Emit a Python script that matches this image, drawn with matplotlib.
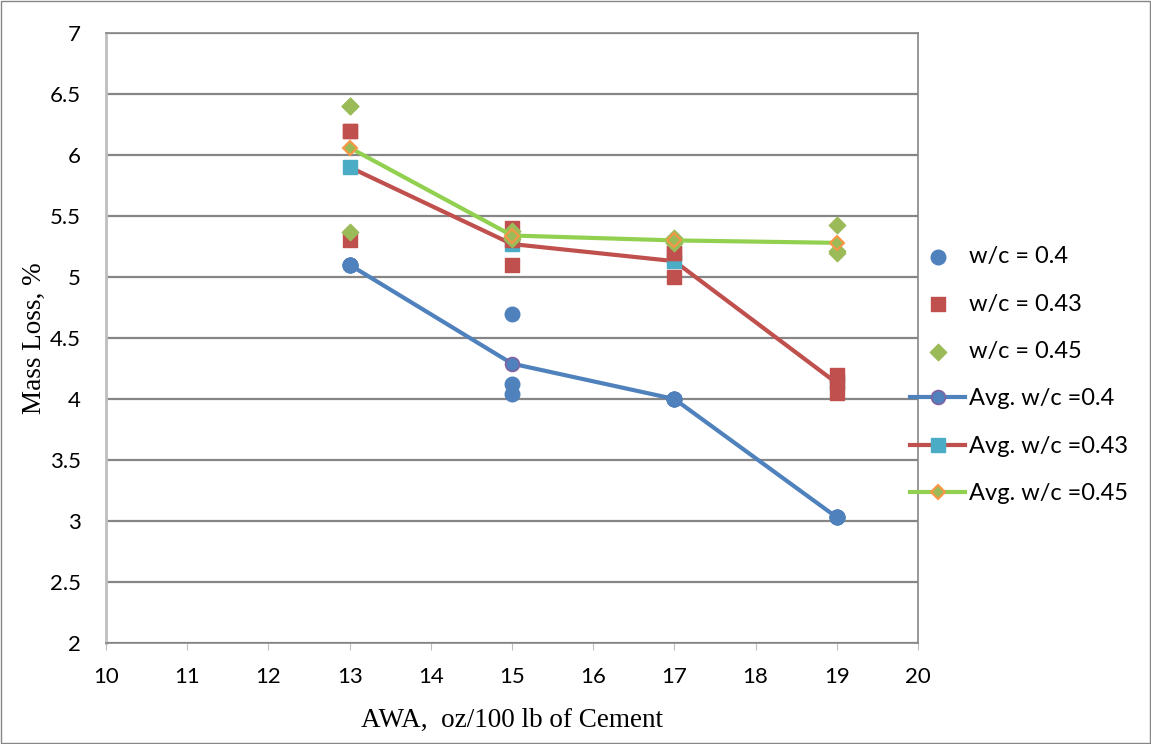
import matplotlib.pyplot as plt
import numpy as np

awa = [13, 15, 17, 19]

# individual measurements (x, mass loss)
x_040 = [13, 13, 13, 15, 15, 15, 17, 17, 17, 19, 19, 19]
y_040 = [5.1, 5.1, 5.1, 4.7, 4.12, 4.04, 4.0, 4.0, 4.0, 3.03, 3.03, 3.03]
x_043 = [13, 13, 13, 15, 15, 15, 17, 17, 17, 19, 19, 19]
y_043 = [6.2, 6.2, 5.3, 5.4, 5.3, 5.1, 5.2, 5.2, 5.0, 4.2, 4.15, 4.05]
x_045 = [13, 13, 13, 15, 15, 15, 17, 17, 17, 19, 19, 19]
y_045 = [6.4, 6.4, 5.37, 5.38, 5.33, 5.31, 5.32, 5.29, 5.28, 5.43, 5.2, 5.21]

avg_040 = [5.1, 4.29, 4.0, 3.03]
avg_043 = [5.9, 5.27, 5.13, 4.13]
avg_045 = [6.06, 5.34, 5.30, 5.28]

fig = plt.figure(figsize=(11.51, 7.44), dpi=100)
ax = fig.add_axes([106/1151, 1 - 643/744, (918-106)/1151, (643-33)/744])

tick_font = 'Lato'
ax.scatter(x_040, y_040, marker='o', s=110, color='#4F81BD', label='w/c = 0.4', zorder=5)
ax.scatter(x_043, y_043, marker='s', s=110, color='#C0504D', label='w/c = 0.43', zorder=5)
ax.scatter(x_045, y_045, marker='D', s=70, color='#9BBB59', label='w/c = 0.45', zorder=5)

ax.plot(awa, avg_040, color='#4F81BD', lw=3, marker='o', ms=10,
        mfc='#4F81BD', mec='#8064A2', mew=1.2, label='Avg. w/c =0.4', zorder=4)
ax.plot(awa, avg_043, color='#C0504D', lw=3, marker='s', ms=10,
        mfc='#4BACC6', mec='#4BACC6', label='Avg. w/c =0.43', zorder=4)
ax.plot(awa, avg_045, color='#92D050', lw=3, marker='D', ms=7,
        mfc='#9BBB59', mec='#F79646', mew=1.5, label='Avg. w/c =0.45', zorder=6)

ax.set_xlim(10, 20)
ax.set_ylim(2, 7)
ax.set_xticks(np.arange(10, 21, 1))
ax.set_yticks(np.arange(2, 7.01, 0.5))
ax.set_yticklabels(['2', '2.5', '3', '3.5', '4', '4.5', '5', '5.5', '6', '6.5', '7'])
ax.yaxis.grid(True, color='#868686', lw=1.6)
ax.set_axisbelow(True)
for s in ax.spines.values():
    s.set_color('#868686')
    s.set_linewidth(1.2)
ax.spines['left'].set_color('#BFBFBF')
ax.spines['left'].set_linewidth(2)
ax.tick_params(axis='y', length=0, labelsize=16, pad=18)
ax.tick_params(axis='x', length=5, color='#BFBFBF', direction='out', labelsize=16, pad=12)
for lab in ax.get_xticklabels() + ax.get_yticklabels():
    lab.set_family(tick_font)

ax.set_xlabel('AWA,  oz/100 lb of Cement', family='Liberation Serif', fontsize=19.5, labelpad=15)
ax.set_ylabel('Mass Loss, %', family='Liberation Serif', fontsize=19.5, labelpad=2)

ax.legend(loc='center left', bbox_to_anchor=(0.9786, 0.439), frameon=False,
          prop={'family': tick_font, 'size': 17}, labelspacing=1.12,
          handlelength=2.33, handletextpad=0.15, borderaxespad=0)

fig.patches.append(plt.Rectangle((0.001, 0.001), 0.998, 0.998, transform=fig.transFigure,
                                 fill=False, edgecolor='#868686', lw=1))

fig.savefig('out.png', dpi=100)
